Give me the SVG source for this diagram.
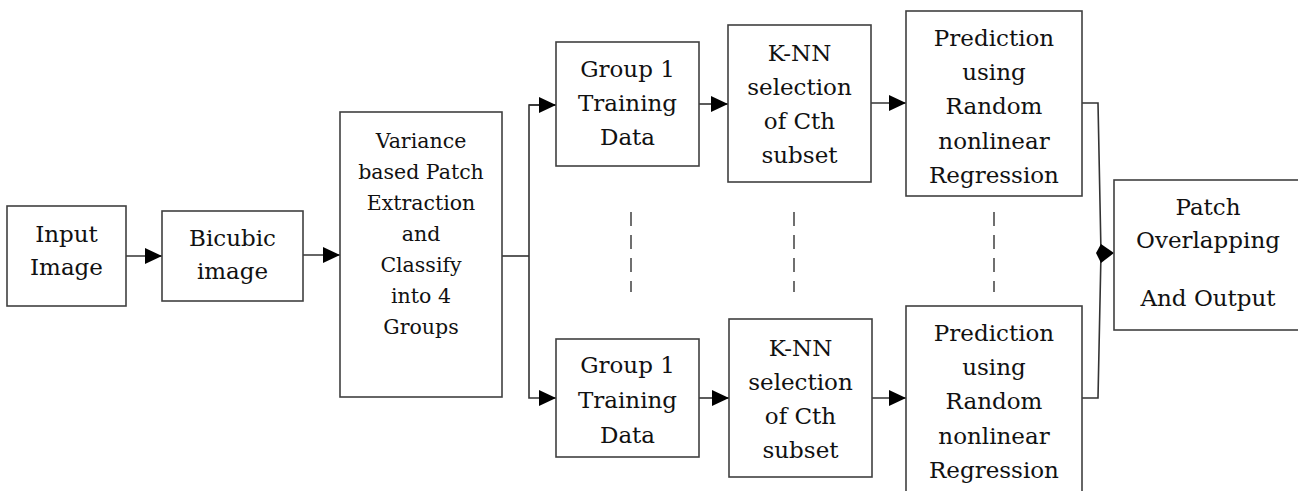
<svg xmlns="http://www.w3.org/2000/svg" width="1298" height="491" viewBox="0 0 1298 491">
<defs>
<marker id="arr" markerUnits="userSpaceOnUse" markerWidth="18" markerHeight="16" refX="17" refY="8" orient="auto">
<path d="M0,0 L17,8 L0,16 Z" fill="#000"/>
</marker>
</defs>
<style>
.box{fill:#fff;stroke:#404040;stroke-width:1.6}
text{font-family:'DejaVu Serif','Liberation Serif',serif;font-size:23px;fill:#111;text-anchor:middle}
.tv{font-size:20.5px}
.ln{fill:none;stroke:#333;stroke-width:1.6}
.dash{fill:none;stroke:#333;stroke-width:1.4;stroke-dasharray:14,9}
</style>
<rect width="1298" height="491" fill="#fff"/>
<g id="connectors">
<line class="ln" x1="126" y1="256" x2="162" y2="256" marker-end="url(#arr)"/>
<line class="ln" x1="303" y1="255" x2="340" y2="255" marker-end="url(#arr)"/>
<polyline class="ln" points="502,256 529,256"/>
<polyline class="ln" points="556,105 529,105 529,398 556,398" marker-end="url(#arr)"/>
<line class="ln" x1="529" y1="105" x2="556" y2="105" marker-end="url(#arr)"/>
<line class="ln" x1="699" y1="104" x2="728" y2="104" marker-end="url(#arr)"/>
<line class="ln" x1="699" y1="398" x2="729" y2="398" marker-end="url(#arr)"/>
<line class="ln" x1="871" y1="103" x2="906" y2="103" marker-end="url(#arr)"/>
<line class="ln" x1="872" y1="398" x2="906" y2="398" marker-end="url(#arr)"/>
<polyline class="ln" points="1082,103 1098,103 1101,253 1098,398 1082,398"/>
<polygon points="1096,253 1101,244 1114,253 1101,263" fill="#000"/>
<line class="dash" x1="631" y1="212" x2="631" y2="292"/>
<line class="dash" x1="794" y1="212" x2="794" y2="292"/>
<line class="dash" x1="994" y1="212" x2="994" y2="292"/>
</g>
<g id="input">
<rect class="box" x="7" y="206" width="119" height="100"/>
<text x="66.5" y="242">Input</text>
<text x="66.5" y="275">Image</text>
</g>
<g id="bicubic">
<rect class="box" x="162" y="211" width="141" height="90"/>
<text x="232.5" y="246">Bicubic</text>
<text x="232.5" y="279">image</text>
</g>
<g id="variance">
<rect class="box" x="340" y="112" width="162" height="285"/>
<text class="tv" x="421" y="148">Variance</text>
<text class="tv" x="421" y="179">based Patch</text>
<text class="tv" x="421" y="210">Extraction</text>
<text class="tv" x="421" y="241">and</text>
<text class="tv" x="421" y="272">Classify</text>
<text class="tv" x="421" y="303">into 4</text>
<text class="tv" x="421" y="334">Groups</text>
</g>
<g id="group1-top">
<rect class="box" x="556" y="42" width="143" height="124"/>
<text x="627.5" y="77">Group 1</text>
<text x="627.5" y="111">Training</text>
<text x="627.5" y="145">Data</text>
</g>
<g id="group1-bottom">
<rect class="box" x="556" y="339" width="143" height="118"/>
<text x="627.5" y="373">Group 1</text>
<text x="627.5" y="408">Training</text>
<text x="627.5" y="443">Data</text>
</g>
<g id="knn-top">
<rect class="box" x="728" y="25" width="143" height="157"/>
<text x="799.5" y="61">K-NN</text>
<text x="799.5" y="95">selection</text>
<text x="799.5" y="129">of Cth</text>
<text x="799.5" y="163">subset</text>
</g>
<g id="knn-bottom">
<rect class="box" x="729" y="319" width="143" height="158"/>
<text x="800.5" y="356">K-NN</text>
<text x="800.5" y="390">selection</text>
<text x="800.5" y="424">of Cth</text>
<text x="800.5" y="458">subset</text>
</g>
<g id="pred-top">
<rect class="box" x="906" y="11" width="176" height="185"/>
<text x="994" y="46">Prediction</text>
<text x="994" y="80">using</text>
<text x="994" y="114">Random</text>
<text x="994" y="149">nonlinear</text>
<text x="994" y="183">Regression</text>
</g>
<g id="pred-bottom">
<rect class="box" x="906" y="306" width="176" height="200"/>
<text x="994" y="341">Prediction</text>
<text x="994" y="375">using</text>
<text x="994" y="409">Random</text>
<text x="994" y="444">nonlinear</text>
<text x="994" y="478">Regression</text>
</g>
<g id="output">
<rect class="box" x="1114" y="180" width="200" height="150"/>
<text x="1208" y="215">Patch</text>
<text x="1208" y="248">Overlapping</text>
<text x="1208" y="306">And Output</text>
</g>
</svg>
